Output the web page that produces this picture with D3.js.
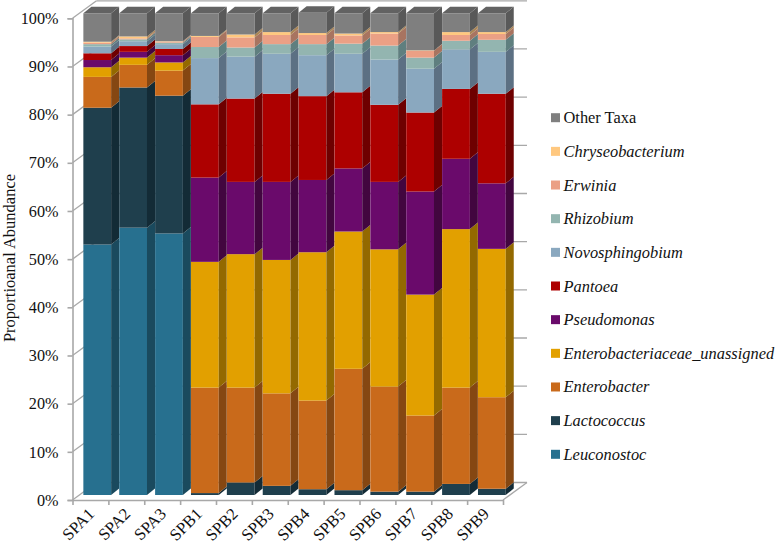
<!DOCTYPE html>
<html><head><meta charset="utf-8">
<script src="https://cdn.jsdelivr.net/npm/d3@7"></script>
<style>
html,body{margin:0;padding:0;background:#fff}
svg{display:block}
text{font-family:"Liberation Serif","Times New Roman",serif;fill:#111}
</style></head><body>
<svg id="c" width="779" height="548"></svg>
<script>
const samples = ["SPA1","SPA2","SPA3","SPB1","SPB2","SPB3","SPB4","SPB5","SPB6","SPB7","SPB8","SPB9"];
const taxa = ["Leuconostoc","Lactococcus","Enterobacter","Enterobacteriaceae_unassigned","Pseudomonas","Pantoea","Novosphingobium","Rhizobium","Erwinia","Chryseobacterium","Other Taxa"];
const leuconostoc = [52.0,55.5,54.3,0,0,0,0,0,0,0,0,0];
const lactococcus = [28.4,29.1,28.6,0.4,2.6,1.9,1.2,1.0,0.7,0.7,2.3,1.3];
const enterobacter = [6.4,4.7,5.2,21.9,19.7,19.2,18.4,25.2,21.8,15.8,20.0,19.0];
const enteroUnassigned = [2.0,1.5,1.7,26.1,27.7,27.7,30.8,28.5,28.5,25.1,32.9,30.8];
const pseudomonas = [1.5,1.2,1.5,17.5,15.0,16.2,15.0,13.1,14.0,21.4,14.6,13.6];
const pantoea = [1.4,1.2,1.3,15.2,17.3,18.3,17.4,15.8,16.0,16.4,14.5,18.6];
const novosphingobium = [1.4,1.0,1.0,9.6,8.7,8.3,8.5,8.0,9.4,9.1,8.2,8.7];
const rhizobium = [0.5,0.4,0.3,2.3,1.9,2.0,2.3,2.1,2.9,2.3,1.8,2.5];
const erwinia = [0.3,0.2,0.2,2.1,2.1,1.9,1.9,1.7,2.5,1.4,1.2,1.2];
const chryseobacterium = [0.2,0.4,0.1,0.2,0.6,0.6,0.4,0.4,0.3,0.1,0.6,0.4];
const otherTaxa = [5.9,4.8,5.8,4.7,4.4,3.9,4.2,4.2,3.9,7.7,3.9,3.9];
const seriesValues = [leuconostoc,lactococcus,enterobacter,enteroUnassigned,pseudomonas,pantoea,novosphingobium,rhizobium,erwinia,chryseobacterium,otherTaxa];
const frontColors = ["#27708F","#1F3F4D","#C96A1B","#E2A000","#6A0A6B","#AD0000","#8AA8BF","#93B5B0","#EBA085","#FFC87F","#7F7F7F"];
const sideColors = ["#1A4A5E","#132B36","#854712","#936900","#42063F","#6E0000","#5C7083","#5F7F7F","#A87460","#AA8555","#595959"];
const topColor = "#626262";
const yTicks = [0,10,20,30,40,50,60,70,80,90,100];

const svg = d3.select("#c");
const left=72.5, right=503, y0=500, y100=18.3;
const wallDx=24, wallDy=-17.5;
const barShiftX=6.8, barShiftY=-5;
const sideDx=8, sideDy=-6.5;
const axisColor="#a8a8a8";

const x = d3.scaleBand().domain(samples).range([left,right]).paddingInner(0.226).paddingOuter(0.113);
const y = d3.scaleLinear().domain([0,100]).range([y0,y100]);

// back wall gridlines and walls
const walls = svg.append("g").attr("fill","none").attr("stroke",axisColor);
walls.selectAll("line.grid").data(yTicks).join("line")
  .attr("x1",left+wallDx).attr("x2",right+wallDx)
  .attr("y1",d=>y(d)+wallDy).attr("y2",d=>y(d)+wallDy).attr("stroke-width",1.3);
walls.selectAll("line.ob").data(yTicks).join("line")
  .attr("x1",left).attr("x2",left+wallDx)
  .attr("y1",d=>y(d)).attr("y2",d=>y(d)+wallDy).attr("stroke-width",1.3);
walls.append("line").attr("x1",right).attr("y1",y0).attr("x2",right+wallDx).attr("y2",y0+wallDy).attr("stroke-width",1.3);

// bars
const stacked = samples.map((s,i)=>{let c=0;return seriesValues.map((vals,k)=>{const a=c;c+=vals[i];return {s,k,a,b:c};});});
const poly = pts => pts.map(p=>p.join(",")).join(" ");
const barsG = svg.append("g");
stacked.forEach(segs=>{
  const g = barsG.append("g");
  const x1 = x(segs[0].s)+barShiftX, w=x.bandwidth(), x2=x1+w;
  const sh = v => y(v)+barShiftY;
  segs.filter(d=>d.b>d.a).forEach(d=>{
    g.append("rect").attr("x",x1).attr("y",sh(d.b)).attr("width",w).attr("height",sh(d.a)-sh(d.b)).attr("fill",frontColors[d.k]);
    g.append("polygon").attr("points",poly([[x2,sh(d.a)],[x2,sh(d.b)],[x2+sideDx,sh(d.b)+sideDy],[x2+sideDx,sh(d.a)+sideDy]])).attr("fill",sideColors[d.k]);
  });
  const t = segs[segs.length-1].b;
  g.append("polygon").attr("points",poly([[x1,sh(t)],[x2,sh(t)],[x2+sideDx,sh(t)+sideDy],[x1+sideDx,sh(t)+sideDy]])).attr("fill",topColor);
});

// axes
const yAxis = d3.axisLeft(y).tickValues(yTicks).tickFormat(d=>d+"%").tickSize(5).tickPadding(9);
const gy = svg.append("g").attr("transform",`translate(${left},0)`).call(yAxis);
gy.selectAll("path,line").attr("stroke",axisColor).attr("stroke-width",1.6);
gy.selectAll("text").attr("font-size",16.2).style("fill","#111");

const xEdges = d3.axisBottom(d3.scaleLinear().domain([0,samples.length]).range([left,right]))
  .tickValues(d3.range(samples.length+1)).tickFormat("").tickSize(5).tickSizeOuter(0);
const gx = svg.append("g").attr("transform",`translate(0,${y0})`).call(xEdges);
gx.selectAll("path,line").attr("stroke",axisColor).attr("stroke-width",1.6);

svg.append("g").selectAll("text").data(samples).join("text")
  .attr("text-anchor","end").attr("font-size",16.6)
  .attr("transform",d=>`translate(${x(d)+x.bandwidth()/2+5},515) rotate(-45)`)
  .text(d=>d);

svg.append("text").attr("transform","translate(14.8,258) rotate(-90)")
  .attr("text-anchor","middle").attr("font-size",16.5).text("Proportioanal Abundance");

// legend
const legendY = d3.scalePoint().domain(d3.range(taxa.length).reverse()).range([117.7,454.3]);
const lg = svg.append("g").selectAll("g").data(d3.range(taxa.length)).join("g")
  .attr("transform",k=>`translate(551,${legendY(k)})`);
lg.append("rect").attr("x",0).attr("y",-4.5).attr("width",9).attr("height",9).attr("fill",k=>frontColors[k]);
lg.append("text").attr("x",12.5).attr("y",5.5).attr("font-size",16.4)
  .attr("font-style",k=>taxa[k]==="Other Taxa"?"normal":"italic").text(k=>taxa[k]);
</script>
</body></html>
